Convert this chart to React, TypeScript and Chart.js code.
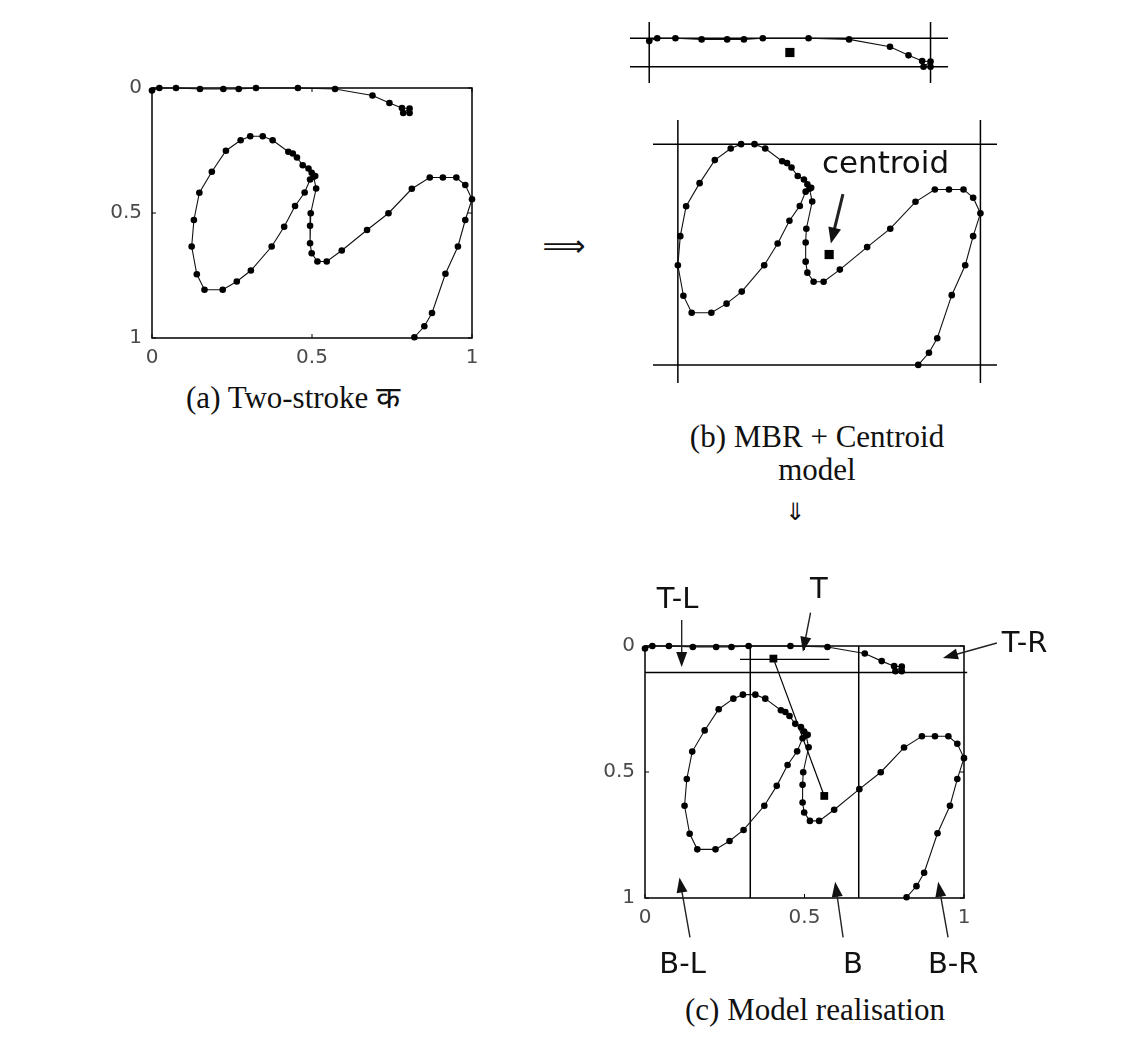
import React, { useEffect, useRef } from 'react';
import { Chart, registerables } from 'chart.js';
Chart.register(...registerables);

// ---------------- data (normalised units, y grows downward) ----------------
const axisTicks = [0, 0.5, 1];

// first stroke (head line)
const stroke1X = [0.0, 0.023, 0.075, 0.15, 0.223, 0.271, 0.325, 0.456, 0.572, 0.689, 0.742, 0.781, 0.805, 0.785, 0.805];
const stroke1Y = [0.01, 0.0, 0.0, 0.004, 0.004, 0.004, 0.0, 0.0, 0.004, 0.03, 0.06, 0.08, 0.082, 0.1, 0.1];

// second stroke (body)
const stroke2X = [0.51, 0.499, 0.489, 0.471, 0.453, 0.44, 0.426, 0.377, 0.346, 0.307, 0.277, 0.231, 0.187, 0.148, 0.131, 0.124, 0.14, 0.164, 0.221, 0.265, 0.309, 0.374, 0.413, 0.447, 0.477, 0.494, 0.505, 0.513, 0.496, 0.494, 0.494, 0.499, 0.517, 0.546, 0.593, 0.672, 0.739, 0.812, 0.868, 0.909, 0.951, 0.979, 1.0, 0.979, 0.956, 0.917, 0.875, 0.851, 0.82];
const stroke2Y = [0.352, 0.339, 0.322, 0.309, 0.278, 0.262, 0.255, 0.209, 0.193, 0.193, 0.209, 0.251, 0.335, 0.419, 0.528, 0.634, 0.745, 0.807, 0.807, 0.774, 0.73, 0.634, 0.555, 0.472, 0.418, 0.366, 0.355, 0.402, 0.501, 0.551, 0.621, 0.661, 0.694, 0.694, 0.65, 0.568, 0.501, 0.403, 0.358, 0.358, 0.358, 0.388, 0.445, 0.528, 0.634, 0.743, 0.9, 0.953, 0.997];

// zone grid of panel (c)
const zoneColumnsX = [0.33, 0.67];
const zoneBandY = [0.105];
const zoneBandX = [0, 1.01];
const topSpanX = [0.298, 0.578];
const topSpanY = [0.053];

const zoneLabels = ['T-L', 'T', 'T-R', 'B-L', 'B', 'B-R'];
const zoneLabelX = [0.037, 0.517, 1.118, 0.045, 0.621, 0.887];
const zoneLabelY = [-0.151, -0.191, 0.024, 1.299, 1.299, 1.299];
const zoneArrowFromX = [0.115, 0.519, 1.103, 0.141, 0.621, 0.95];
const zoneArrowFromY = [-0.103, -0.132, -0.012, 1.156, 1.156, 1.156];
const zoneArrowToX = [0.115, 0.495, 0.934, 0.108, 0.596, 0.919];
const zoneArrowToY = [0.083, 0.023, 0.048, 0.919, 0.936, 0.936];

const centroidText = 'centroid';
const centroidTextPos = [0.541, 0.298];
const centroidArrowFrom = [0.602, 0.375];
const centroidArrowTo = [0.567, 0.555];

// ---------------- helpers ----------------
type Pt = { x: number; y: number };
const pts = (xs: number[], ys: number[]): Pt[] => xs.map((x, i) => ({ x, y: ys[i] }));
const bounds = (xs: number[], ys: number[]) => ({
  x0: Math.min(...xs), x1: Math.max(...xs), y0: Math.min(...ys), y1: Math.max(...ys),
});
const b1 = bounds(stroke1X, stroke1Y);
const b2 = bounds(stroke2X, stroke2Y);
const centre = (b: { x0: number; x1: number; y0: number; y1: number }): Pt => ({ x: (b.x0 + b.x1) / 2, y: (b.y0 + b.y1) / 2 });
const c1 = centre(b1);
const c2 = centre(b2);

const SANS = "'DejaVu Sans', 'Open Sans', sans-serif";
const SERIF = "'Liberation Serif', 'DejaVu Serif', 'Noto Sans', serif";
const tickFont = { family: "'DejaVu Sans', sans-serif", size: 20 };

const strokeDs = (data: Pt[]) => ({
  data, showLine: true, borderColor: '#111', borderWidth: 1.1, tension: 0,
  pointRadius: 3.3, pointHoverRadius: 3.3, pointBackgroundColor: '#000', pointBorderWidth: 0, clip: false as any,
});
const lineDs = (data: Pt[], w = 1.5) => ({
  data, showLine: true, borderColor: '#000', borderWidth: w, pointRadius: 0, pointHoverRadius: 0, clip: false as any,
});
const markerDs = (data: Pt[], r: number) => ({
  data, showLine: false, pointStyle: 'rect', pointRadius: r, pointHoverRadius: r,
  pointBackgroundColor: '#000', pointBorderWidth: 0, clip: false as any,
});

type Arrow = { fx: number; fy: number; tx: number; ty: number; w: number; head: number; headW: number };
type Label = { text: string; x: number; y: number; font: string };

const annotPlugin = (arrows: Arrow[], labels: Label[]) => ({
  id: 'annot',
  afterDatasetsDraw(chart: any) {
    const { ctx, scales } = chart;
    const sx = scales.x, sy = scales.y;
    ctx.save();
    ctx.fillStyle = '#111';
    ctx.strokeStyle = '#222';
    for (const a of arrows) {
      const x1 = sx.getPixelForValue(a.fx), y1 = sy.getPixelForValue(a.fy);
      const x2 = sx.getPixelForValue(a.tx), y2 = sy.getPixelForValue(a.ty);
      const ang = Math.atan2(y2 - y1, x2 - x1);
      const c = Math.cos(ang), s = Math.sin(ang);
      ctx.lineWidth = a.w;
      ctx.beginPath();
      ctx.moveTo(x1, y1);
      ctx.lineTo(x2 - a.head * 0.7 * c, y2 - a.head * 0.7 * s);
      ctx.stroke();
      const bx = x2 - a.head * c, by = y2 - a.head * s;
      ctx.beginPath();
      ctx.moveTo(x2, y2);
      ctx.lineTo(bx + (a.headW / 2) * s, by - (a.headW / 2) * c);
      ctx.lineTo(bx - (a.headW / 2) * s, by + (a.headW / 2) * c);
      ctx.closePath();
      ctx.fill();
    }
    ctx.textAlign = 'left';
    ctx.textBaseline = 'alphabetic';
    for (const l of labels) {
      ctx.font = l.font;
      ctx.fillText(l.text, sx.getPixelForValue(l.x), sy.getPixelForValue(l.y));
    }
    ctx.restore();
  },
});

const framePlugin = {
  id: 'frame',
  beforeDatasetsDraw(chart: any) {
    const { ctx, chartArea: a, scales } = chart;
    ctx.save();
    ctx.strokeStyle = '#000';
    ctx.lineWidth = 1.5;
    ctx.strokeRect(a.left, a.top, a.right - a.left, a.bottom - a.top);
    ctx.lineWidth = 1;
    ctx.beginPath();
    for (const v of axisTicks) {
      const px = scales.x.getPixelForValue(v);
      const py = scales.y.getPixelForValue(v);
      ctx.moveTo(px, a.bottom); ctx.lineTo(px, a.bottom - 4);
      ctx.moveTo(px, a.top); ctx.lineTo(px, a.top + 4);
      ctx.moveTo(a.left, py); ctx.lineTo(a.left + 4, py);
      ctx.moveTo(a.right, py); ctx.lineTo(a.right - 4, py);
    }
    ctx.stroke();
    ctx.restore();
  },
};

const axisScales = (yWidth: number, xHeight: number) => {
  const base = {
    type: 'linear', min: 0, max: 1,
    afterBuildTicks: (s: any) => { s.ticks = axisTicks.map((v) => ({ value: v })); },
    grid: { display: false, drawTicks: false },
    border: { display: false },
  };
  const ticks = { color: '#4a4a4a', font: tickFont, callback: (v: any) => String(v) };
  return {
    x: { ...base, ticks: { ...ticks, padding: 8 }, afterFit: (s: any) => { s.height = xHeight; } },
    y: { ...base, reverse: true, ticks: { ...ticks, padding: 10 }, afterFit: (s: any) => { s.width = yWidth; } },
  };
};

const baseOptions = (extra: any) => ({
  responsive: false,
  animation: false,
  events: [],
  plugins: { legend: { display: false }, tooltip: { enabled: false } },
  ...extra,
});

const hiddenScales = (xmin: number, xmax: number, ymin: number, ymax: number) => ({
  x: { type: 'linear', display: false, min: xmin, max: xmax },
  y: { type: 'linear', display: false, reverse: true, min: ymin, max: ymax },
});

const mbrLines = (b: { x0: number; x1: number; y0: number; y1: number }, xmin: number, xmax: number, ymin: number, ymax: number) => [
  lineDs([{ x: xmin, y: b.y0 }, { x: xmax, y: b.y0 }]),
  lineDs([{ x: xmin, y: b.y1 }, { x: xmax, y: b.y1 }]),
  lineDs([{ x: b.x0, y: ymin }, { x: b.x0, y: ymax }]),
  lineDs([{ x: b.x1, y: ymin }, { x: b.x1, y: ymax }]),
];

// ---------------- chart configs ----------------
const configA = () => ({
  type: 'scatter',
  data: { datasets: [strokeDs(pts(stroke1X, stroke1Y)), strokeDs(pts(stroke2X, stroke2Y))] },
  options: baseOptions({ layout: { autoPadding: false, padding: { top: 24, right: 18, left: 0, bottom: 0 } }, scales: axisScales(57, 32) }),
  plugins: [framePlugin],
});

const configBTop = () => {
  const xmin = b1.x0 - 0.055, xmax = b1.x1 + 0.05, ymin = b1.y0 - 0.057, ymax = b1.y1 + 0.057;
  return {
    type: 'scatter',
    data: { datasets: [markerDs([c1], 6.5), strokeDs(pts(stroke1X, stroke1Y)), ...mbrLines(b1, xmin, xmax, ymin, ymax)] },
    options: baseOptions({ layout: { autoPadding: false, padding: 0 }, scales: hiddenScales(xmin, xmax, ymin, ymax) }),
  };
};

const configBBottom = () => {
  const xmin = b2.x0 - 0.072, xmax = b2.x1 + 0.048, ymin = b2.y0 - 0.088, ymax = b2.y1 + 0.066;
  return {
    type: 'scatter',
    data: { datasets: [markerDs([c2], 6.5), strokeDs(pts(stroke2X, stroke2Y)), ...mbrLines(b2, xmin, xmax, ymin, ymax)] },
    options: baseOptions({ layout: { autoPadding: false, padding: 0 }, scales: hiddenScales(xmin, xmax, ymin, ymax) }),
    plugins: [
      annotPlugin(
        [{ fx: centroidArrowFrom[0], fy: centroidArrowFrom[1], tx: centroidArrowTo[0], ty: centroidArrowTo[1], w: 3, head: 16, headW: 13 }],
        [{ text: centroidText, x: centroidTextPos[0], y: centroidTextPos[1], font: `31px ${SANS}` }],
      ),
    ],
  };
};

const configC = () => {
  const arrows: Arrow[] = zoneArrowFromX.map((fx, i) => ({
    fx, fy: zoneArrowFromY[i], tx: zoneArrowToX[i], ty: zoneArrowToY[i], w: 1.4, head: 15, headW: 11,
  }));
  const labels: Label[] = zoneLabels.map((text, i) => ({ text, x: zoneLabelX[i], y: zoneLabelY[i], font: `29px ${SANS}` }));
  return {
    type: 'scatter',
    data: {
      datasets: [
        markerDs([c1, c2], 5.5),
        lineDs([c1, c2], 1.2),
        strokeDs(pts(stroke1X, stroke1Y)),
        strokeDs(pts(stroke2X, stroke2Y)),
        lineDs([{ x: topSpanX[0], y: topSpanY[0] }, { x: topSpanX[1], y: topSpanY[0] }], 1.2),
        lineDs([{ x: zoneBandX[0], y: zoneBandY[0] }, { x: zoneBandX[1], y: zoneBandY[0] }], 1.5),
        ...zoneColumnsX.map((x) => lineDs([{ x, y: 0 }, { x, y: 1 }], 1.5)),
      ],
    },
    options: baseOptions({ layout: { autoPadding: false, padding: { top: 86, right: 106, left: 0, bottom: 0 } }, scales: axisScales(75, 92) }),
    plugins: [framePlugin, annotPlugin(arrows, labels)],
  };
};

// ---------------- components ----------------
function ChartCanvas({ left, top, width, height, make }: { left: number; top: number; width: number; height: number; make: () => any }) {
  const ref = useRef<HTMLCanvasElement>(null);
  useEffect(() => {
    const chart = new Chart(ref.current as HTMLCanvasElement, make());
    return () => chart.destroy();
  }, []);
  return (
    <canvas
      ref={ref}
      width={width}
      height={height}
      style={{ position: 'absolute', left, top, width, height }}
    />
  );
}

const Caption = ({ x, y, size, family, children }: { x: number; y: number; size: number; family: string; children: React.ReactNode }) => (
  <div
    style={{
      position: 'absolute', left: x, top: y, transform: 'translate(-50%, -50%)',
      fontFamily: family, fontSize: size, lineHeight: 1.1, whiteSpace: 'nowrap', color: '#111', textAlign: 'center',
    }}
  >
    {children}
  </div>
);

export default function App() {
  return (
    <div style={{ position: 'absolute', left: 0, top: 0, width: 1145, height: 1041, background: '#fff', overflow: 'hidden' }}>
      <ChartCanvas left={95} top={64} width={395} height={306} make={configA} />
      <ChartCanvas left={630} top={22} width={318} height={61} make={configBTop} />
      <ChartCanvas left={653} top={120} width={344} height={263} make={configBBottom} />
      <ChartCanvas left={570} top={560} width={500} height={430} make={configC} />

      <Caption x={293} y={398} size={31} family={SERIF}>(a) Two-stroke क</Caption>
      <Caption x={817} y={437} size={31} family={SERIF}>(b) MBR + Centroid</Caption>
      <Caption x={817} y={470} size={31} family={SERIF}>model</Caption>
      <Caption x={815} y={1010} size={31} family={SERIF}>(c) Model realisation</Caption>
      <Caption x={564} y={245} size={30} family={SANS}>⟹</Caption>
      <Caption x={795} y={512} size={24} family={SANS}>⇓</Caption>
    </div>
  );
}
